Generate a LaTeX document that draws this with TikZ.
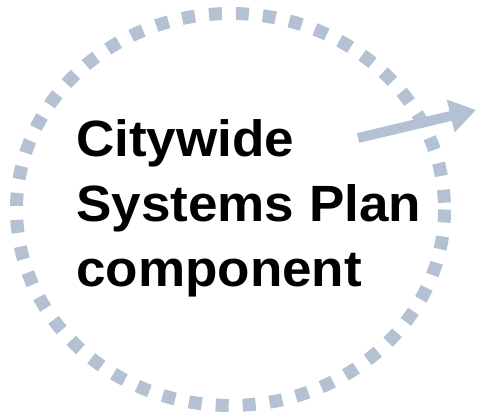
\documentclass[tikz,border=0pt]{standalone}
\usepackage{fontspec}
\setmainfont{Liberation Sans}[FakeStretch=1.04]
\usetikzlibrary{arrows.meta}
\definecolor{ringblue}{HTML}{B3C1D2}
\begin{document}
\begin{tikzpicture}[x=1pt, y=-1pt,
  ring/.style={draw=ringblue, line width=13pt, dash pattern=on 13pt off 14pt},
  flowarrow/.style={draw=ringblue, line width=10pt, -{Triangle[length=26pt, width=32pt]}},
  title/.style={align=left, anchor=base west, inner sep=0pt, font=\fontsize{51}{65}\selectfont\bfseries}]
\useasboundingbox (0,0) rectangle (477,414);

% Dashed ring
\draw[ring] (230.5,209.5) ellipse [x radius=214, y radius=196];

% Outgoing arrow
\coordinate (arrowstart) at (358,138);
\coordinate (arrowtip) at (476,110);
\draw[flowarrow] (arrowstart) -- (arrowtip);

% Label (anchored at the last line)
\node[title] (label) at (76,287) {Citywide\\Systems Plan\\component};
\end{tikzpicture}
\end{document}
